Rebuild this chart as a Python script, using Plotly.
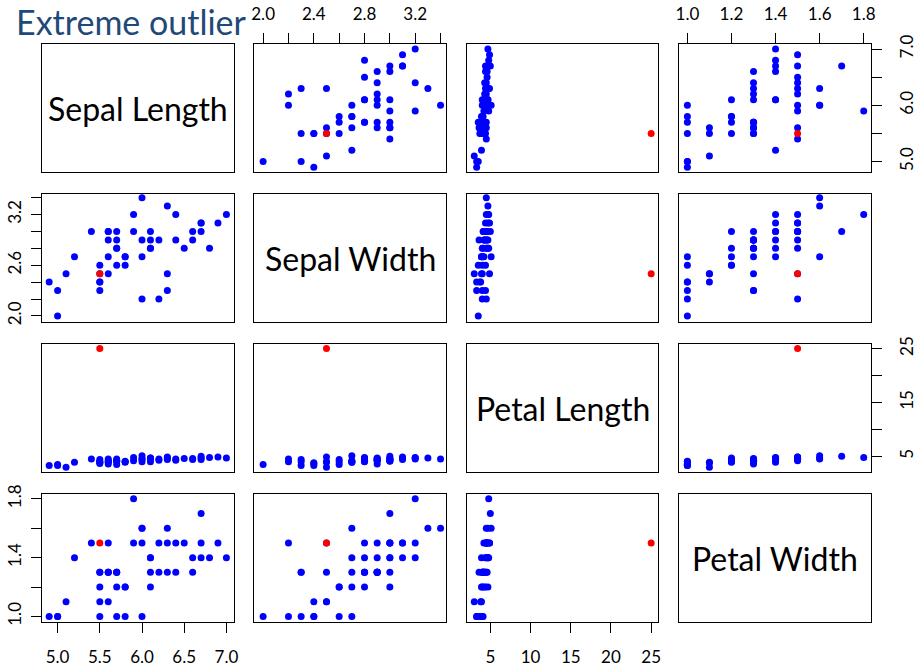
import plotly.graph_objects as go

# ---- data (iris versicolor) ----
var_names = ["Sepal Length", "Sepal Width", "Petal Length", "Petal Width"]
sepal_length = [7.0, 6.4, 6.9, 5.5, 6.5, 5.7, 6.3, 4.9, 6.6, 5.2, 5.0, 5.9, 6.0, 6.1, 5.6, 6.7, 5.6, 5.8, 6.2, 5.6,
                5.9, 6.1, 6.3, 6.1, 6.4, 6.6, 6.8, 6.7, 6.0, 5.7, 5.5, 5.5, 5.8, 6.0, 5.4, 6.0, 6.7, 6.3, 5.6, 5.5,
                5.5, 6.1, 5.8, 5.0, 5.6, 5.7, 5.7, 6.2, 5.1, 5.7]
sepal_width = [3.2, 3.2, 3.1, 2.3, 2.8, 2.8, 3.3, 2.4, 2.9, 2.7, 2.0, 3.0, 2.2, 2.9, 2.9, 3.1, 3.0, 2.7, 2.2, 2.5,
               3.2, 2.8, 2.5, 2.8, 2.9, 3.0, 2.8, 3.0, 2.9, 2.6, 2.4, 2.4, 2.7, 2.7, 3.0, 3.4, 3.1, 2.3, 3.0, 2.5,
               2.6, 3.0, 2.6, 2.3, 2.7, 3.0, 2.9, 2.9, 2.5, 2.8]
petal_length = [4.7, 4.5, 4.9, 4.0, 4.6, 4.5, 4.7, 3.3, 4.6, 3.9, 3.5, 4.2, 4.0, 4.7, 3.6, 4.4, 4.5, 4.1, 4.5, 3.9,
                4.8, 4.0, 4.9, 4.7, 4.3, 4.4, 4.8, 5.0, 4.5, 3.5, 3.8, 3.7, 3.9, 5.1, 4.5, 4.5, 4.7, 4.4, 4.1, 4.0,
                4.4, 4.6, 4.0, 3.3, 4.2, 4.2, 4.2, 4.3, 3.0, 4.1]
petal_width = [1.4, 1.5, 1.5, 1.3, 1.5, 1.3, 1.6, 1.0, 1.3, 1.4, 1.0, 1.5, 1.0, 1.4, 1.3, 1.4, 1.5, 1.0, 1.5, 1.1,
               1.8, 1.3, 1.5, 1.2, 1.3, 1.4, 1.4, 1.7, 1.5, 1.0, 1.1, 1.0, 1.2, 1.6, 1.5, 1.6, 1.5, 1.3, 1.3, 1.3,
               1.2, 1.4, 1.2, 1.0, 1.3, 1.2, 1.3, 1.3, 1.1, 1.3]
# the extreme outlier
outlier_sepal_length = [5.5]
outlier_sepal_width = [2.5]
outlier_petal_length = [25.0]
outlier_petal_width = [1.5]

# tick values and labels (R draws every tick, labels only where they fit)
sl_ticks = [5.0, 5.5, 6.0, 6.5, 7.0]
sl_labels_x = ["5.0", "5.5", "6.0", "6.5", "7.0"]
sl_labels_y = ["5.0", "", "6.0", "", "7.0"]
sw_ticks = [2.0, 2.2, 2.4, 2.6, 2.8, 3.0, 3.2, 3.4]
sw_labels_x = ["2.0", "", "2.4", "", "2.8", "", "3.2", ""]
sw_labels_y = ["2.0", "", "", "2.6", "", "", "3.2", ""]
pl_ticks = [5, 10, 15, 20, 25]
pl_labels_x = ["5", "10", "15", "20", "25"]
pl_labels_y = ["5", "", "15", "", "25"]
pw_ticks = [1.0, 1.2, 1.4, 1.6, 1.8]
pw_labels_x = ["1.0", "1.2", "1.4", "1.6", "1.8"]
pw_labels_y = ["1.0", "", "1.4", "", "1.8"]

values = [sepal_length, sepal_width, petal_length, petal_width]
outliers = [outlier_sepal_length, outlier_sepal_width, outlier_petal_length, outlier_petal_width]
ticks = [sl_ticks, sw_ticks, pl_ticks, pw_ticks]
labels_x = [sl_labels_x, sw_labels_x, pl_labels_x, pw_labels_x]
labels_y = [sl_labels_y, sw_labels_y, pl_labels_y, pw_labels_y]
ranges = [[4.815, 7.09], [1.928, 3.443], [2.1, 25.85], [0.962, 1.833]]

# ---- layout geometry (pixels) ----
W, H = 918, 669
col_px = [(42, 234), (254, 446), (467, 658), (679, 871)]
row_px = [(44, 172), (194, 322), (344, 472), (494, 622)]

FONT = "Lato"
fig = go.Figure()
layout = dict(
    width=W, height=H, margin=dict(l=0, r=0, t=0, b=0, pad=0, autoexpand=False),
    paper_bgcolor="white", plot_bgcolor="white", showlegend=False,
    font=dict(family=FONT, size=17, color="black"),
)
annotations = []

for i in range(4):
    for j in range(4):
        k = i * 4 + j + 1
        xa = "xaxis" if k == 1 else f"xaxis{k}"
        ya = "yaxis" if k == 1 else f"yaxis{k}"
        xref = "x" if k == 1 else f"x{k}"
        yref = "y" if k == 1 else f"y{k}"
        x0, x1 = col_px[j]
        y0, y1 = row_px[i]
        xd = [x0 / W, x1 / W]
        yd = [1 - y1 / H, 1 - y0 / H]
        base = dict(showline=True, mirror=True, linecolor="black", linewidth=1, automargin=False,
                    showgrid=False, zeroline=False, fixedrange=True)
        xcfg = dict(base, domain=xd, anchor=yref)
        ycfg = dict(base, domain=yd, anchor=xref)
        if i == j:
            xcfg.update(range=[0, 1], showticklabels=False, ticks="")
            ycfg.update(range=[0, 1], showticklabels=False, ticks="")
            annotations.append(dict(x=0.5, y=0.5, xref=xref, yref=yref, text=var_names[i],
                                    showarrow=False, font=dict(family=FONT, size=32, color="black"),
                                    xanchor="center", yanchor="middle"))
        else:
            xcfg.update(range=ranges[j])
            ycfg.update(range=ranges[i])
            fig.add_trace(go.Scatter(x=values[j], y=values[i], mode="markers", xaxis=xref, yaxis=yref,
                                     marker=dict(color="#0000FF", size=7, line=dict(width=0)),
                                     hoverinfo="skip"))
            fig.add_trace(go.Scatter(x=outliers[j], y=outliers[i], mode="markers", xaxis=xref, yaxis=yref,
                                     marker=dict(color="#FF0000", size=7, line=dict(width=0)),
                                     hoverinfo="skip"))
        # x axis ticks
        show_x = (j % 2 == 0 and i == 3) or (j % 2 == 1 and i == 0)
        if show_x:
            xcfg.update(range=ranges[j], tickmode="array", tickvals=ticks[j], ticktext=labels_x[j],
                        ticks="outside", ticklen=10, tickcolor="black", tickwidth=1,
                        showticklabels=True, side="bottom" if i == 3 else "top",
                        ticklabelstandoff=10 if i == 3 else 6,
                        tickfont=dict(family=FONT, size=17, color="black"))
        else:
            xcfg.update(showticklabels=False, ticks="")
        show_y = (i % 2 == 0 and j == 3) or (i % 2 == 1 and j == 0)
        if show_y:
            ycfg.update(range=ranges[i], tickmode="array", tickvals=ticks[i], ticktext=labels_y[i],
                        ticks="outside", ticklen=10, tickcolor="black", tickwidth=1,
                        showticklabels=True, side="right" if j == 3 else "left", tickangle=-90,
                        ticklabelstandoff=11 if j == 3 else 3,
                        tickfont=dict(family=FONT, size=17, color="black"))
        else:
            ycfg.update(showticklabels=False, ticks="")
        layout[xa] = xcfg
        layout[ya] = ycfg

annotations.append(dict(x=14 / W, y=1 - 22 / H, xref="paper", yref="paper", text="Extreme outlier",
                        showarrow=False, xanchor="left", yanchor="middle",
                        font=dict(family=FONT, size=34, color="#1f4a78")))
layout["annotations"] = annotations
fig.update_layout(**layout)
fig.write_html("out.html")
